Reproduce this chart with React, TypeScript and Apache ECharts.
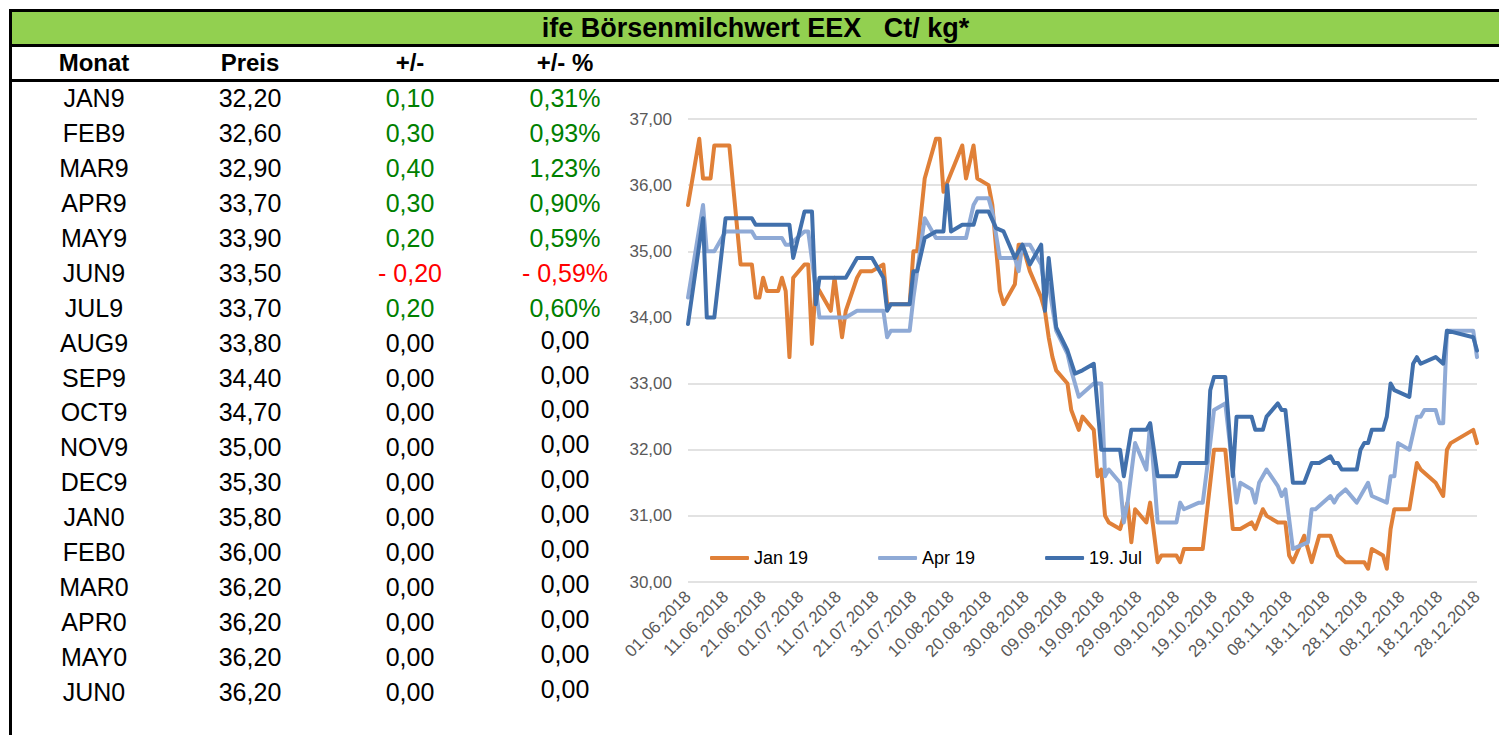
import React, { useEffect, useRef } from "react";
import * as echarts from "echarts";

const TITLE = "ife Börsenmilchwert EEX   Ct/ kg*";
const tableHeaders = ["Monat", "Preis", "+/-", "+/- %"];
const months = ["JAN9", "FEB9", "MAR9", "APR9", "MAY9", "JUN9", "JUL9", "AUG9", "SEP9", "OCT9", "NOV9", "DEC9", "JAN0", "FEB0", "MAR0", "APR0", "MAY0", "JUN0"];
const prices = ["32,20", "32,60", "32,90", "33,70", "33,90", "33,50", "33,70", "33,80", "34,40", "34,70", "35,00", "35,30", "35,80", "36,00", "36,20", "36,20", "36,20", "36,20"];
const changes = ["0,10", "0,30", "0,40", "0,30", "0,20", "- 0,20", "0,20", "0,00", "0,00", "0,00", "0,00", "0,00", "0,00", "0,00", "0,00", "0,00", "0,00", "0,00"];
const changesPct = ["0,31%", "0,93%", "1,23%", "0,90%", "0,59%", "- 0,59%", "0,60%", "0,00", "0,00", "0,00", "0,00", "0,00", "0,00", "0,00", "0,00", "0,00", "0,00", "0,00"];

const seriesNames = ["Jan 19", "Apr 19", "19. Jul"];
const START_DATE = "2018-06-01";
const END_DATE = "2018-12-28";
const yTicks = [30, 31, 32, 33, 34, 35, 36, 37];

const janDates = ["2018-06-01", "2018-06-04", "2018-06-05", "2018-06-07", "2018-06-08", "2018-06-12", "2018-06-15", "2018-06-18", "2018-06-19", "2018-06-20", "2018-06-21", "2018-06-22", "2018-06-25", "2018-06-26", "2018-06-27", "2018-06-28", "2018-06-29", "2018-07-02", "2018-07-03", "2018-07-04", "2018-07-05", "2018-07-06", "2018-07-09", "2018-07-10", "2018-07-12", "2018-07-13", "2018-07-16", "2018-07-17", "2018-07-20", "2018-07-23", "2018-07-24", "2018-07-30", "2018-07-31", "2018-08-01", "2018-08-03", "2018-08-06", "2018-08-07", "2018-08-08", "2018-08-13", "2018-08-14", "2018-08-16", "2018-08-17", "2018-08-20", "2018-08-21", "2018-08-23", "2018-08-24", "2018-08-27", "2018-08-28", "2018-08-29", "2018-08-31", "2018-09-03", "2018-09-04", "2018-09-05", "2018-09-06", "2018-09-07", "2018-09-10", "2018-09-11", "2018-09-13", "2018-09-14", "2018-09-17", "2018-09-18", "2018-09-19", "2018-09-20", "2018-09-21", "2018-09-24", "2018-09-25", "2018-09-26", "2018-09-27", "2018-09-28", "2018-10-01", "2018-10-02", "2018-10-04", "2018-10-05", "2018-10-09", "2018-10-10", "2018-10-11", "2018-10-16", "2018-10-19", "2018-10-22", "2018-10-24", "2018-10-26", "2018-10-29", "2018-10-30", "2018-11-01", "2018-11-02", "2018-11-05", "2018-11-07", "2018-11-08", "2018-11-09", "2018-11-12", "2018-11-14", "2018-11-16", "2018-11-19", "2018-11-21", "2018-11-23", "2018-11-28", "2018-11-29", "2018-11-30", "2018-12-03", "2018-12-04", "2018-12-05", "2018-12-06", "2018-12-10", "2018-12-12", "2018-12-13", "2018-12-17", "2018-12-19", "2018-12-20", "2018-12-21", "2018-12-27", "2018-12-28"];
const janValues = [35.7, 36.7, 36.1, 36.1, 36.6, 36.6, 34.8, 34.8, 34.3, 34.3, 34.6, 34.4, 34.4, 34.6, 34.4, 33.4, 34.6, 34.8, 34.8, 33.6, 34.5, 34.4, 34.1, 34.6, 33.7, 34.1, 34.6, 34.7, 34.7, 34.8, 34.2, 34.2, 35.0, 35.0, 36.1, 36.7, 36.7, 35.9, 36.6, 36.1, 36.6, 36.1, 36.0, 35.7, 34.4, 34.2, 34.5, 35.1, 35.1, 34.7, 34.3, 34.1, 33.7, 33.4, 33.2, 33.0, 32.6, 32.3, 32.5, 32.3, 31.6, 31.7, 31.0, 30.9, 30.8, 31.0, 31.2, 30.6, 31.1, 30.9, 31.2, 30.3, 30.4, 30.4, 30.3, 30.5, 30.5, 32.0, 32.0, 30.8, 30.8, 30.9, 30.8, 31.1, 31.0, 30.9, 30.9, 30.4, 30.3, 30.7, 30.3, 30.7, 30.7, 30.4, 30.3, 30.3, 30.2, 30.5, 30.4, 30.2, 30.8, 31.1, 31.1, 31.8, 31.7, 31.5, 31.3, 32.0, 32.1, 32.3, 32.1];

const aprDates = ["2018-06-01", "2018-06-05", "2018-06-06", "2018-06-08", "2018-06-11", "2018-06-18", "2018-06-19", "2018-06-26", "2018-06-27", "2018-06-28", "2018-07-02", "2018-07-03", "2018-07-06", "2018-07-13", "2018-07-16", "2018-07-23", "2018-07-24", "2018-07-25", "2018-07-30", "2018-07-31", "2018-08-03", "2018-08-06", "2018-08-14", "2018-08-16", "2018-08-17", "2018-08-20", "2018-08-21", "2018-08-23", "2018-08-27", "2018-08-28", "2018-08-29", "2018-08-31", "2018-09-03", "2018-09-04", "2018-09-05", "2018-09-07", "2018-09-10", "2018-09-11", "2018-09-13", "2018-09-17", "2018-09-19", "2018-09-20", "2018-09-21", "2018-09-24", "2018-09-25", "2018-09-26", "2018-09-28", "2018-10-01", "2018-10-02", "2018-10-04", "2018-10-09", "2018-10-10", "2018-10-11", "2018-10-15", "2018-10-16", "2018-10-18", "2018-10-19", "2018-10-22", "2018-10-25", "2018-10-26", "2018-10-29", "2018-10-30", "2018-10-31", "2018-11-02", "2018-11-05", "2018-11-06", "2018-11-07", "2018-11-09", "2018-11-13", "2018-11-14", "2018-11-15", "2018-11-19", "2018-11-20", "2018-11-21", "2018-11-23", "2018-11-26", "2018-11-29", "2018-11-30", "2018-12-04", "2018-12-05", "2018-12-06", "2018-12-07", "2018-12-10", "2018-12-12", "2018-12-13", "2018-12-14", "2018-12-17", "2018-12-18", "2018-12-19", "2018-12-20", "2018-12-27", "2018-12-28"];
const aprValues = [34.3, 35.7, 35.0, 35.0, 35.3, 35.3, 35.2, 35.2, 35.1, 35.1, 35.3, 35.3, 34.0, 34.0, 34.1, 34.1, 33.7, 33.8, 33.8, 34.3, 35.5, 35.2, 35.2, 35.7, 35.8, 35.8, 35.6, 34.9, 34.9, 34.7, 35.1, 35.1, 34.8, 34.4, 34.5, 33.8, 33.45, 33.2, 32.8, 33.0, 33.0, 31.6, 31.7, 31.5, 30.9, 31.2, 32.1, 31.7, 32.4, 30.9, 30.9, 31.2, 31.1, 31.2, 31.2, 32.1, 32.6, 32.7, 31.2, 31.5, 31.4, 31.2, 31.5, 31.7, 31.45, 31.3, 31.4, 30.5, 30.6, 31.1, 31.1, 31.3, 31.2, 31.3, 31.4, 31.2, 31.5, 31.3, 31.2, 31.6, 31.6, 32.1, 32.0, 32.5, 32.5, 32.6, 32.6, 32.4, 32.4, 33.8, 33.8, 33.4];

const julDates = ["2018-06-01", "2018-06-05", "2018-06-06", "2018-06-08", "2018-06-11", "2018-06-18", "2018-06-19", "2018-06-28", "2018-06-29", "2018-07-02", "2018-07-04", "2018-07-05", "2018-07-06", "2018-07-13", "2018-07-16", "2018-07-20", "2018-07-23", "2018-07-24", "2018-07-25", "2018-07-30", "2018-07-31", "2018-08-01", "2018-08-03", "2018-08-06", "2018-08-08", "2018-08-09", "2018-08-10", "2018-08-13", "2018-08-16", "2018-08-17", "2018-08-20", "2018-08-22", "2018-08-24", "2018-08-27", "2018-08-29", "2018-08-31", "2018-09-03", "2018-09-04", "2018-09-05", "2018-09-07", "2018-09-10", "2018-09-12", "2018-09-14", "2018-09-17", "2018-09-19", "2018-09-24", "2018-09-25", "2018-09-27", "2018-10-01", "2018-10-02", "2018-10-04", "2018-10-09", "2018-10-10", "2018-10-17", "2018-10-18", "2018-10-19", "2018-10-22", "2018-10-24", "2018-10-25", "2018-10-29", "2018-10-30", "2018-11-01", "2018-11-02", "2018-11-05", "2018-11-06", "2018-11-07", "2018-11-09", "2018-11-12", "2018-11-14", "2018-11-16", "2018-11-19", "2018-11-20", "2018-11-21", "2018-11-22", "2018-11-26", "2018-11-27", "2018-11-28", "2018-11-29", "2018-11-30", "2018-12-03", "2018-12-04", "2018-12-05", "2018-12-06", "2018-12-10", "2018-12-11", "2018-12-12", "2018-12-13", "2018-12-17", "2018-12-19", "2018-12-20", "2018-12-27", "2018-12-28"];
const julValues = [33.9, 35.5, 34.0, 34.0, 35.5, 35.5, 35.4, 35.4, 34.9, 35.6, 35.6, 34.2, 34.6, 34.6, 34.9, 34.9, 34.6, 34.1, 34.2, 34.2, 34.7, 34.7, 35.2, 35.3, 35.3, 36.0, 35.3, 35.4, 35.4, 35.6, 35.6, 35.35, 35.3, 34.9, 35.1, 34.8, 35.1, 34.1, 34.9, 33.85, 33.5, 33.15, 33.2, 33.3, 32.0, 32.0, 31.6, 32.3, 32.3, 32.4, 31.6, 31.6, 31.8, 31.8, 32.9, 33.1, 33.1, 31.6, 32.5, 32.5, 32.3, 32.3, 32.5, 32.7, 32.6, 32.6, 31.5, 31.5, 31.8, 31.8, 31.9, 31.8, 31.8, 31.7, 31.7, 32.0, 32.1, 32.1, 32.3, 32.3, 32.5, 33.0, 32.9, 32.8, 33.3, 33.4, 33.3, 33.4, 33.3, 33.8, 33.7, 33.5];

const DAY_MS = 86400000;
const startMs = Date.parse(START_DATE + "T00:00:00Z");
const dayOf = (d: string) => Math.round((Date.parse(d + "T00:00:00Z") - startMs) / DAY_MS);
const pad = (n: number) => (n < 10 ? "0" + n : String(n));
const fmtDate = (v: number) => {
  const dt = new Date(startMs + Math.round(v) * DAY_MS);
  return pad(dt.getUTCDate()) + "." + pad(dt.getUTCMonth() + 1) + "." + dt.getUTCFullYear();
};
const toPairs = (dates: string[], values: number[]) => dates.map((d, i) => [dayOf(d), values[i]]);

const FONT = '"Liberation Sans", Arial, Helvetica, sans-serif';
const ROW0 = 98;
const ROW_STEP = 34.94;
const COLS = [94, 250, 410, 565];

function colorFor(s: string) {
  if (s.trim().startsWith("-")) return "#FF0000";
  if (/[1-9]/.test(s)) return "#008000";
  return "#000000";
}

export default function App() {
  const ref = useRef<HTMLDivElement>(null);
  useEffect(() => {
    if (!ref.current) return;
    const chart = echarts.init(ref.current, undefined, { renderer: "svg" });
    const colors = ["#E08038", "#8FAAD6", "#4170AC"];
    const allSeries = [
      toPairs(janDates, janValues),
      toPairs(aprDates, aprValues),
      toPairs(julDates, julValues),
    ];
    chart.setOption({
      animation: false,
      textStyle: { fontFamily: FONT },
      grid: { left: 688, right: 22, top: 119, bottom: 153, containLabel: false },
      legend: {
        left: 710,
        top: 549,
        padding: 0,
        icon: "roundRect",
        itemWidth: 39,
        itemHeight: 4,
        itemGap: 70,
        textStyle: { fontSize: 18, color: "#000000", fontFamily: FONT },
        data: seriesNames,
      },
      xAxis: {
        type: "value",
        min: 0,
        max: dayOf(END_DATE),
        interval: 10,
        axisLine: { show: false },
        axisTick: { show: false },
        splitLine: { show: false },
        axisLabel: {
          rotate: 45,
          margin: 12,
          fontSize: 17,
          color: "#595959",
          fontFamily: FONT,
          formatter: (v: number) => fmtDate(v),
        },
      },
      yAxis: {
        type: "value",
        min: yTicks[0],
        max: yTicks[yTicks.length - 1],
        interval: 1,
        axisLine: { show: false },
        axisTick: { show: false },
        splitLine: { lineStyle: { color: "#D9D9D9", width: 1.5 } },
        axisLabel: {
          margin: 16,
          fontSize: 17,
          color: "#595959",
          fontFamily: FONT,
          formatter: (v: number) => v.toFixed(2).replace(".", ","),
        },
      },
      series: seriesNames.map((name, i) => ({
        name,
        type: "line",
        data: allSeries[i],
        showSymbol: false,
        symbol: "none",
        z: 2 + i,
        color: colors[i],
        lineStyle: { width: 4, color: colors[i], cap: "round", join: "round" },
      })),
    });
    return () => chart.dispose();
  }, []);

  const cell = (text: string, cx: number, cy: number, opts: any = {}) => (
    <div
      key={text + cx + "-" + cy}
      style={{
        position: "absolute",
        left: cx - 80,
        width: 160,
        top: cy - 15,
        height: 30,
        lineHeight: "30px",
        textAlign: "center",
        fontFamily: FONT,
        fontSize: opts.size || 25,
        fontWeight: opts.bold ? "bold" : "normal",
        color: opts.color || "#000",
        whiteSpace: "pre",
      }}
    >
      {text}
    </div>
  );

  return (
    <div style={{ position: "absolute", left: 0, top: 0, width: 1499, height: 735, overflow: "hidden", background: "#fff" }}>
      <div style={{ position: "absolute", left: 9, top: 9, width: 1490, height: 3, background: "#000" }} />
      <div style={{ position: "absolute", left: 9, top: 9, width: 3, height: 726, background: "#000" }} />
      <div style={{ position: "absolute", left: 12, top: 12, width: 1487, height: 32, background: "#92D050" }} />
      <div style={{ position: "absolute", left: 12, top: 44, width: 1487, height: 3, background: "#000" }} />
      <div style={{ position: "absolute", left: 12, top: 79, width: 1487, height: 3, background: "#000" }} />
      <div
        style={{
          position: "absolute",
          left: 12,
          width: 1487,
          top: 12,
          height: 32,
          lineHeight: "32px",
          textAlign: "center",
          fontFamily: FONT,
          fontWeight: "bold",
          fontSize: 27,
          whiteSpace: "pre",
          color: "#000",
        }}
      >
        {TITLE}
      </div>
      {tableHeaders.map((h, i) => cell(h, COLS[i], 63, { bold: true, size: 24 }))}
      {months.map((m, r) => {
        const cy = ROW0 + r * ROW_STEP;
        const pctZero = !/[1-9]/.test(changesPct[r]);
        return (
          <React.Fragment key={m}>
            {cell(m, COLS[0], cy)}
            {cell(prices[r], COLS[1], cy)}
            {cell(changes[r], COLS[2], cy, { color: colorFor(changes[r]) })}
            {cell(changesPct[r], COLS[3], pctZero ? cy - 3 : cy, { color: colorFor(changesPct[r]) })}
          </React.Fragment>
        );
      })}
      <div ref={ref} style={{ position: "absolute", left: 0, top: 0, width: 1499, height: 735 }} />
    </div>
  );
}
